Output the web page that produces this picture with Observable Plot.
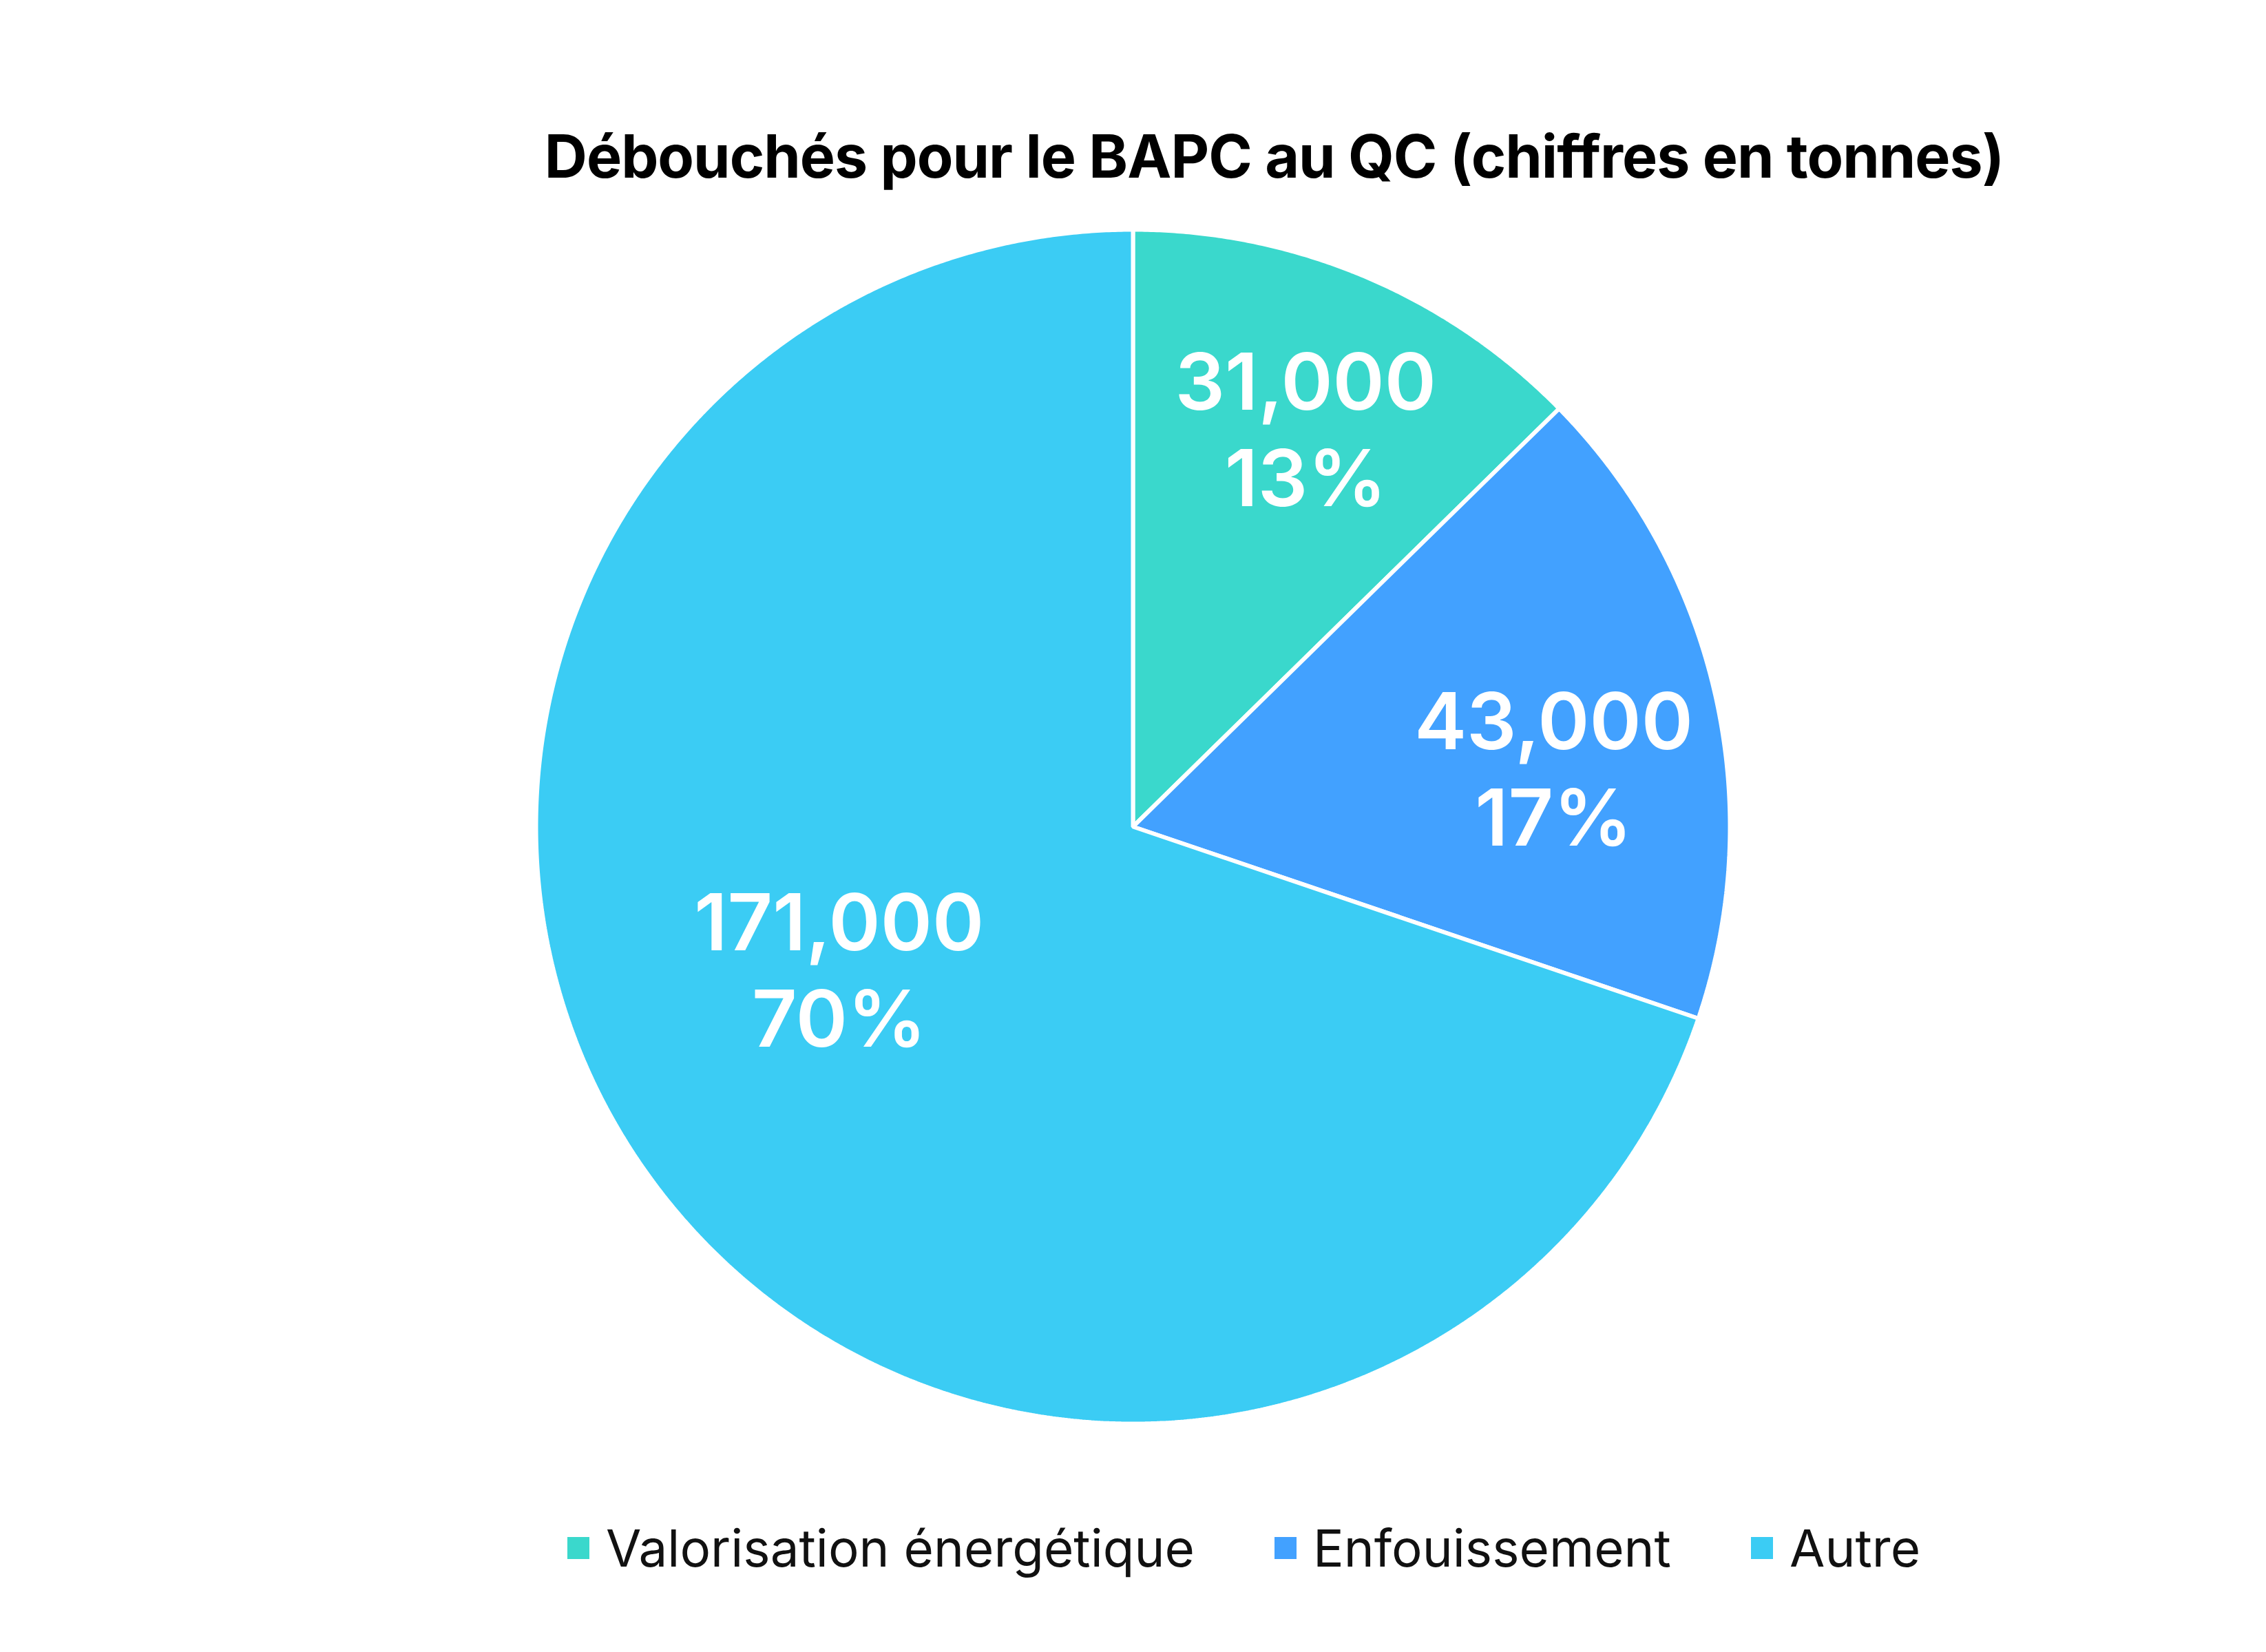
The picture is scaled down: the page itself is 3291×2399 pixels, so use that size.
<!DOCTYPE html>
<html>
<head>
<meta charset="utf-8">
<script src="https://cdn.jsdelivr.net/npm/d3@7"></script>
<script src="https://cdn.jsdelivr.net/npm/@observablehq/plot@0.6"></script>
<style>
  html, body { margin: 0; padding: 0; background: #ffffff; }
  body { width: 3291px; height: 2399px; overflow: hidden; font-family: Inter, "Noto Sans", sans-serif; }
  #title { height: 277px; box-sizing: border-box; padding-top: 177px; padding-left: 410px;
           text-align: center; font-size: 86px; line-height: 100px; font-weight: 700; color: #000; letter-spacing: -1px; }
  #chart svg { display: block; }
  #legend { display: flex; justify-content: center; align-items: center; padding-left: 322px; padding-top: 87px;
            font-size: 74.5px; line-height: 76px; color: #111; font-weight: 400; }
  .item { display: flex; align-items: center; margin: 0 58px; }
  .sw { width: 32px; height: 32px; margin-right: 24px; }
</style>
</head>
<body>
<div id="title"></div>
<div id="chart"></div>
<div id="legend"></div>
<script>
const title = "Débouchés pour le BAPC au QC (chiffres en tonnes)";
const categories = ["Valorisation énergétique", "Enfouissement", "Autre"];
const values = [31000, 43000, 171000];
const percentLabels = ["13%", "17%", "70%"];
const colors = ["#3AD8CC", "#42A1FF", "#3BCCF4"];

// layout of the value labels (radius fraction, angular shift from the slice mid-angle in degrees)
const labelRadius = [0.729, 0.712, 0.546];
const labelShiftDeg = [0.6, 4.7, 10];

document.getElementById("title").textContent = title;

const data = categories.map((c, i) => ({category: c, value: values[i], pct: percentLabels[i]}));
const arcs = d3.pie().sort(null).value(d => d.value)(data);

const pts = [];
arcs.forEach(a => {
  pts.push({category: a.data.category, x: 0, y: 0});
  const n = Math.max(2, Math.ceil((a.endAngle - a.startAngle) / 0.005));
  for (let k = 0; k <= n; k++) {
    const t = a.startAngle + (a.endAngle - a.startAngle) * k / n;
    pts.push({category: a.data.category, x: Math.sin(t), y: Math.cos(t)});
  }
});

const fmt = d3.format(",");
const labels = arcs.map((a, i) => {
  const mid = (a.startAngle + a.endAngle) / 2 + labelShiftDeg[i] * Math.PI / 180;
  return {x: labelRadius[i] * Math.sin(mid), y: labelRadius[i] * Math.cos(mid),
          text: fmt(a.data.value) + "\n" + a.data.pct};
});

const plot = Plot.plot({
  width: 3291,
  height: 1846,
  marginLeft: 778,
  marginRight: 779,
  marginTop: 56,
  marginBottom: 56,
  x: {domain: [-1, 1], axis: null},
  y: {domain: [-1, 1], axis: null},
  color: {domain: categories, range: colors},
  marks: [
    Plot.line(pts, {x: "x", y: "y", z: "category", fill: "category", stroke: "white",
                    strokeWidth: 6, curve: "linear-closed", strokeLinejoin: "miter"}),
    Plot.text(labels, {x: "x", y: "y", text: "text", fill: "white", fontSize: 114,
                       fontWeight: 600, lineHeight: 1.228, fontFamily: "Inter, sans-serif"})
  ]
});
document.getElementById("chart").appendChild(plot);

const legend = document.getElementById("legend");
categories.forEach((c, i) => {
  const item = document.createElement("div");
  item.className = "item";
  const sw = document.createElement("div");
  sw.className = "sw";
  sw.style.background = colors[i];
  const tx = document.createElement("span");
  tx.textContent = c;
  item.appendChild(sw);
  item.appendChild(tx);
  legend.appendChild(item);
});
</script>
</body>
</html>
